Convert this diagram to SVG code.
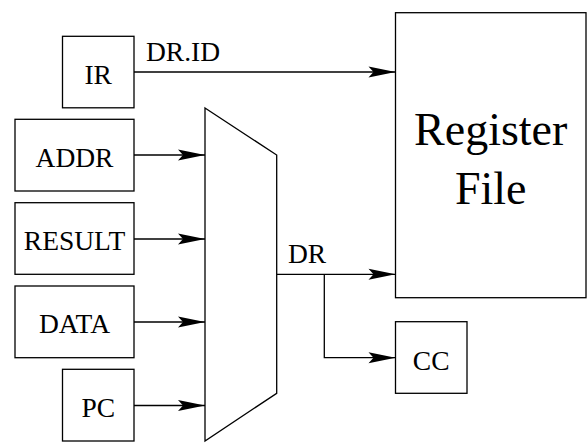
<svg xmlns="http://www.w3.org/2000/svg" width="588" height="444" viewBox="0 0 588 444">
<style>
.b{fill:#fff;stroke:#000;stroke-width:1.3}
.t{font-family:"Liberation Serif",serif;font-size:27.5px;fill:#000;text-anchor:middle}
.big{font-size:46px}
.c{fill:none;stroke:#000;stroke-width:1.3}
</style>
<defs>
<marker id="ah" markerUnits="userSpaceOnUse" markerWidth="28" markerHeight="12" refX="27" refY="6" orient="auto" overflow="visible">
<path d="M0,0.5 L27,6 L0,11.5 L5,6 Z" fill="#000"/>
</marker>
</defs>
<rect width="588" height="444" fill="#fff"/>
<g id="connectors">
<path class="c" d="M134,72 H395.5" marker-end="url(#ah)"/>
<path class="c" d="M134,155 H205" marker-end="url(#ah)"/>
<path class="c" d="M134,239 H205" marker-end="url(#ah)"/>
<path class="c" d="M134,322 H205" marker-end="url(#ah)"/>
<path class="c" d="M134,405.5 H205" marker-end="url(#ah)"/>
<path class="c" d="M277,274.3 H395.5" marker-end="url(#ah)"/>
<path class="c" d="M324.3,274.3 V357.7 H395.5" marker-end="url(#ah)"/>
<text class="t" x="146" y="61" style="text-anchor:start">DR.ID</text>
<text class="t" x="288" y="263" style="text-anchor:start">DR</text>
</g>
<g id="ir"><rect class="b" x="62.5" y="36.3" width="71.5" height="71.5"/><text class="t" x="98.2" y="84">IR</text></g>
<g id="addr"><rect class="b" x="15" y="119.3" width="119" height="71.7"/><text class="t" x="74.5" y="166.5">ADDR</text></g>
<g id="result"><rect class="b" x="15" y="202.7" width="119" height="71.6"/><text class="t" x="74.5" y="250">RESULT</text></g>
<g id="data"><rect class="b" x="15" y="286" width="119" height="71.7"/><text class="t" x="74.5" y="333">DATA</text></g>
<g id="pc"><rect class="b" x="62.5" y="369.3" width="71.5" height="71.7"/><text class="t" x="98.2" y="416.5">PC</text></g>
<g id="mux"><path class="b" d="M205,108 L276.7,155 V393.3 L205,441 Z"/></g>
<g id="regfile"><rect class="b" x="395.5" y="12.7" width="190.5" height="285"/><text class="t big" x="490.7" y="145">Register</text><text class="t big" x="490.7" y="203.5">File</text></g>
<g id="cc"><rect class="b" x="395.5" y="321.7" width="71.5" height="71.6"/><text class="t" x="431.2" y="370">CC</text></g>
</svg>
